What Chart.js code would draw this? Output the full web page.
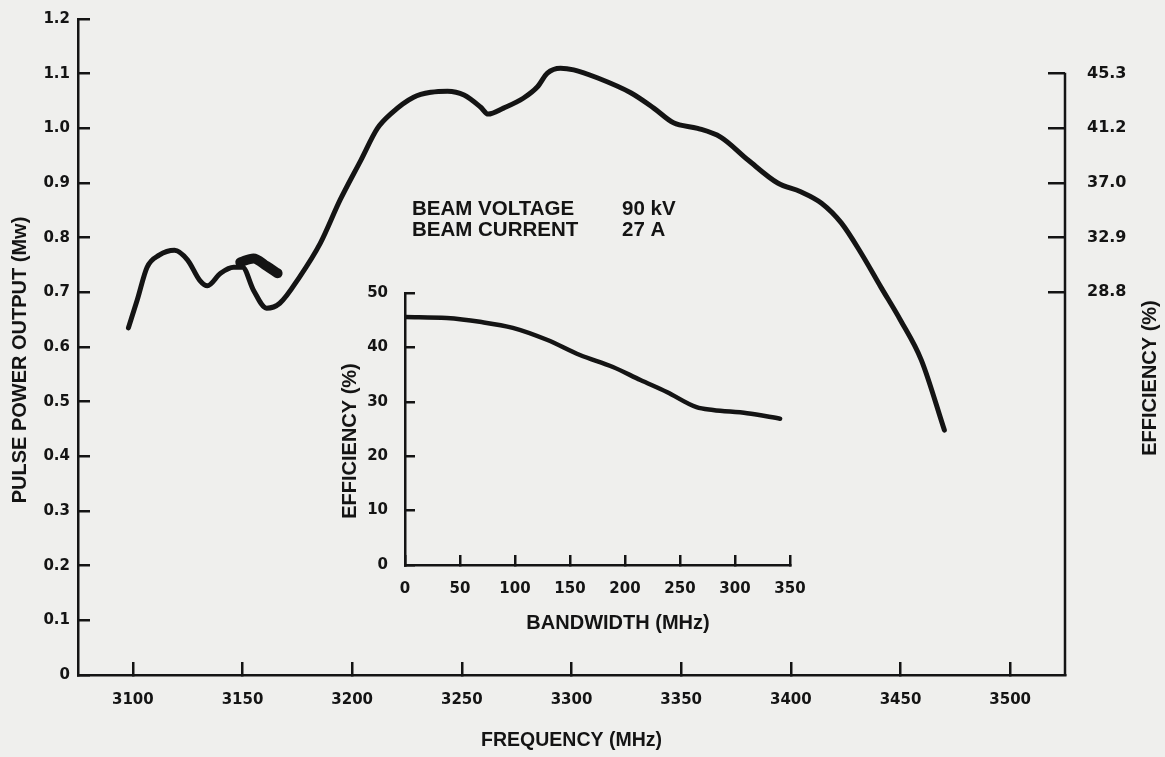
<!DOCTYPE html>
<html lang="en">
<head>
<meta charset="UTF-8">
<title>Pulse power output and efficiency vs frequency</title>
<script src="https://cdn.jsdelivr.net/npm/chart.js@4.4.1/dist/chart.umd.min.js"></script>
<style>
  html, body { margin: 0; padding: 0; background: #efefed; }
  #wrap { position: relative; width: 1165px; height: 757px; }
  canvas { position: absolute; }
  #main { left: 0; top: 0; }
  #inset { left: 330px; top: 260px; }
</style>
</head>
<body>
<div id="wrap">
  <canvas id="main" width="1165" height="757"></canvas>
  <canvas id="inset" width="490" height="390"></canvas>
</div>
<script>
  // main curve: pulse power output vs frequency
  const freqMHz = [3098, 3102, 3106.5, 3112, 3119, 3125, 3130.5, 3134, 3140, 3146, 3150, 3155, 3161, 3167,
    3176, 3185.5, 3194.5, 3204, 3211.5, 3218, 3228, 3236, 3243.5, 3251, 3258.5, 3262, 3269, 3278, 3284.5,
    3289, 3295, 3301, 3312, 3327, 3337.5, 3346.5, 3357.5, 3368, 3380.5, 3394, 3404.5, 3414, 3423, 3432,
    3441, 3450, 3459.5, 3470];
  const powerMW = [0.635, 0.686, 0.746, 0.768, 0.777, 0.759, 0.722, 0.712, 0.735, 0.746, 0.746, 0.704, 0.671, 0.68,
    0.728, 0.79, 0.869, 0.942, 1.0, 1.028, 1.057, 1.066, 1.068, 1.061, 1.039, 1.026, 1.037, 1.055, 1.076,
    1.101, 1.110, 1.107, 1.092, 1.065, 1.037, 1.010, 1.0, 0.984, 0.942, 0.9, 0.884, 0.863, 0.827, 0.772,
    0.710, 0.649, 0.576, 0.448];

  // ink blot on the original near 3150 MHz
  const blotFreq = [3149, 3155, 3161, 3166];
  const blotPower = [0.755, 0.762, 0.748, 0.735];

  // inset: efficiency vs bandwidth
  const bandwidthMHz = [0, 38, 68, 98, 129, 159, 189, 214, 238, 265, 280, 311, 341];
  const efficiencyPct = [45.6, 45.4, 44.7, 43.6, 41.4, 38.6, 36.4, 34.0, 31.8, 29.0, 28.5, 27.9, 26.9];

  // axes
  const freqTicks = [3100, 3150, 3200, 3250, 3300, 3350, 3400, 3450, 3500];
  const powerTicks = [0, 0.1, 0.2, 0.3, 0.4, 0.5, 0.6, 0.7, 0.8, 0.9, 1.0, 1.1, 1.2];
  const effTickLabels = ['28.8', '32.9', '37.0', '41.2', '45.3'];
  const effTickPower = [0.7, 0.8, 0.9, 1.0, 1.1];
  const EFF_PER_MW = 41.2;
  const bwTicks = [0, 50, 100, 150, 200, 250, 300, 350];
  const effTicks = [0, 10, 20, 30, 40, 50];

  const INK = '#141414';
  const WORDS = '"Liberation Sans", Arial, sans-serif';
  Chart.defaults.font.family = '"DejaVu Sans", sans-serif';
  Chart.defaults.font.weight = 'bold';
  Chart.defaults.font.size = 15;
  Chart.defaults.color = INK;

  const freeText = {
    id: 'freeText',
    afterDraw(chart, args, opts) {
      const ctx = chart.ctx;
      (opts.items || []).forEach(t => {
        ctx.save();
        ctx.font = 'bold ' + (t.size || 20) + 'px ' + WORDS;
        ctx.fillStyle = INK;
        ctx.textAlign = t.align || 'left';
        ctx.textBaseline = 'middle';
        ctx.translate(t.x, t.y);
        if (t.rotate) ctx.rotate(t.rotate);
        ctx.fillText(t.text, 0, 0);
        ctx.restore();
      });
    }
  };

  // right axis line only runs from the top efficiency tick down
  const rightSpine = {
    id: 'rightSpine',
    afterDraw(chart) {
      const s = chart.scales.yEff;
      const top = s.getPixelForValue(s.ticks[s.ticks.length - 1].value);
      const ctx = chart.ctx;
      ctx.save();
      ctx.strokeStyle = INK;
      ctx.lineWidth = 2.5;
      ctx.beginPath();
      ctx.moveTo(chart.chartArea.right, top - 1);
      ctx.lineTo(chart.chartArea.right, chart.chartArea.bottom + 1);
      ctx.stroke();
      ctx.restore();
    }
  };

  // fixed box size, and no label-driven padding so the plot area lands where the original has it
  const fixSize = (w, h) => s => {
    if (w != null) s.width = w;
    if (h != null) s.height = h;
    s.paddingTop = 0; s.paddingBottom = 0; s.paddingLeft = 0; s.paddingRight = 0;
  };
  const axisGrid = (len) => ({ drawOnChartArea: false, drawTicks: true, tickLength: -len, color: INK, lineWidth: 2.5 });
  const axisBorder = { display: true, color: INK, width: 2.5 };
  const lineStyle = { showLine: true, pointRadius: 0, borderColor: INK, borderCapStyle: 'round',
    borderJoinStyle: 'round', cubicInterpolationMode: 'monotone', fill: false };

  new Chart(document.getElementById('main'), {
    type: 'scatter',
    data: {
      datasets: [
        Object.assign({ data: freqMHz.map((f, i) => ({ x: f, y: powerMW[i] })), borderWidth: 5, yAxisID: 'y' }, lineStyle),
        Object.assign({ data: blotFreq.map((f, i) => ({ x: f, y: blotPower[i] })), borderWidth: 10, yAxisID: 'y' }, lineStyle)
      ]
    },
    options: {
      responsive: false,
      animation: false,
      layout: { padding: { top: 19, left: 0, right: 0, bottom: 0 } },
      plugins: {
        legend: { display: false },
        tooltip: { enabled: false },
        freeText: {
          items: [
            { text: 'PULSE POWER OUTPUT (Mw)', x: 20, y: 360, rotate: -Math.PI / 2, align: 'center' },
            { text: 'EFFICIENCY (%)', x: 1150, y: 378, rotate: -Math.PI / 2, align: 'center' },
            { text: 'BEAM VOLTAGE', x: 412, y: 209, size: 20.5 },
            { text: '90 kV', x: 622, y: 209, size: 20.5 },
            { text: 'BEAM CURRENT', x: 412, y: 230, size: 20.5 },
            { text: '27 A', x: 622, y: 230, size: 20.5 }
          ]
        }
      },
      scales: {
        x: {
          type: 'linear', min: 3075, max: 3525,
          afterBuildTicks: s => { s.ticks = freqTicks.map(v => ({ value: v })); },
          afterFit: fixSize(null, 82),
          grid: axisGrid(13), border: axisBorder,
          ticks: { padding: 29, maxRotation: 0, callback: v => String(v) },
          title: { display: true, text: 'FREQUENCY (MHz)', font: { family: WORDS, size: 19.5 }, padding: { top: 0, bottom: 5 } }
        },
        y: {
          position: 'left', min: 0, max: 1.2,
          afterBuildTicks: s => { s.ticks = powerTicks.map(v => ({ value: v })); },
          afterFit: fixSize(78, null),
          grid: axisGrid(12), border: axisBorder,
          ticks: { padding: 20, callback: v => v === 0 ? '0' : v.toFixed(1) }
        },
        yEff: {
          position: 'right', min: 0, max: 1.2 * EFF_PER_MW,
          afterBuildTicks: s => { s.ticks = effTickPower.map(p => ({ value: p * EFF_PER_MW })); },
          afterFit: fixSize(100, null),
          grid: axisGrid(17), border: { display: false },
          ticks: { padding: 39, font: { size: 16 }, callback: (v, i) => effTickLabels[i] }
        }
      }
    },
    plugins: [freeText, rightSpine]
  });

  new Chart(document.getElementById('inset'), {
    type: 'scatter',
    data: {
      datasets: [
        Object.assign({ data: bandwidthMHz.map((b, i) => ({ x: b, y: efficiencyPct[i] })), borderWidth: 4.5 }, lineStyle)
      ]
    },
    options: {
      responsive: false,
      animation: false,
      layout: { padding: { top: 33, left: 0, right: 30, bottom: 0 } },
      plugins: {
        legend: { display: false },
        tooltip: { enabled: false },
        freeText: {
          items: [
            { text: 'BANDWIDTH (MHz)', x: 288, y: 363, align: 'center' },
            { text: 'EFFICIENCY (%)', x: 20, y: 181, rotate: -Math.PI / 2, align: 'center' }
          ]
        }
      },
      scales: {
        x: {
          type: 'linear', min: 0, max: 350,
          afterBuildTicks: s => { s.ticks = bwTicks.map(v => ({ value: v })); },
          afterFit: fixSize(null, 85),
          grid: axisGrid(10), border: axisBorder,
          ticks: { padding: 25, maxRotation: 0 }
        },
        y: {
          min: 0, max: 50,
          afterBuildTicks: s => { s.ticks = effTicks.map(v => ({ value: v })); },
          afterFit: fixSize(75, null),
          grid: axisGrid(10), border: axisBorder,
          ticks: { padding: 27 }
        }
      }
    },
    plugins: [freeText]
  });
</script>
</body>
</html>
